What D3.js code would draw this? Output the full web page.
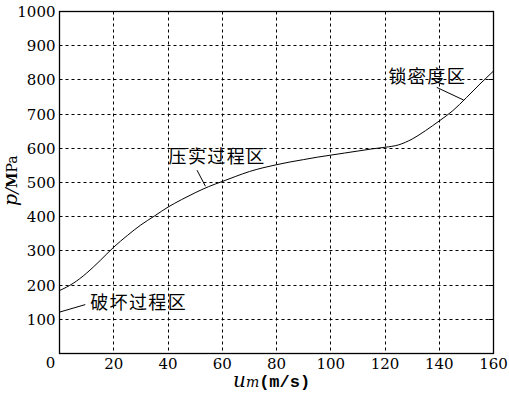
<!DOCTYPE html>
<html>
<head>
<meta charset="utf-8">
<script src="https://cdn.jsdelivr.net/npm/d3@7"></script>
<style>
  body { margin: 0; background: #fff; }
  svg { display: block; }
</style>
</head>
<body>
<div id="chart"></div>
<script>
// impact speed (m/s) and pressure (MPa)
var speed = [0, 5, 10, 15, 20, 25, 30, 35, 40, 45, 50, 55, 60, 65, 70, 75, 80,
  85, 90, 95, 100, 105, 110, 115, 120, 125, 130, 135, 140, 145, 150, 155, 160];
var pressure = [184, 205, 235, 272, 311, 345, 376, 402, 428, 450, 470, 488, 503, 518, 532, 543, 552,
  560, 567, 574, 580, 586, 592, 598, 603, 610, 627, 652, 680, 710, 748, 788, 826];

var xTicks = [20, 40, 60, 80, 100, 120, 140, 160];
var yTicks = [100, 200, 300, 400, 500, 600, 700, 800, 900, 1000];

// region labels: text anchor and leader line (data units)
var labels = ["破坏过程区", "压实过程区", "锁密度区"];
var labelAt = [[11.3, 150], [40.2, 575], [121.3, 809]];
var leaderFrom = [[0, 121], [50.7, 536], [139.1, 778]];
var leaderTo = [[9.5, 143], [53.8, 489], [149, 741]];

var W = 509, H = 398;
var margin = {top: 11.5, right: 15.5, bottom: 44.5, left: 59.5};
var width = W - margin.left - margin.right;
var height = H - margin.top - margin.bottom;

var svg = d3.select("#chart").append("svg")
  .attr("width", W)
  .attr("height", H);

var g = svg.append("g")
  .attr("transform", "translate(" + margin.left + "," + margin.top + ")");

var x = d3.scaleLinear().domain([0, 160]).range([0, width]);
var y = d3.scaleLinear().domain([0, 1000]).range([height, 0]);

// dashed grid
g.selectAll(".vgrid")
  .data(xTicks.filter(function(d) { return d < 160; }))
  .enter().append("line")
    .attr("x1", function(d) { return Math.round(x(d)); })
    .attr("x2", function(d) { return Math.round(x(d)); })
    .attr("y1", 0)
    .attr("y2", height)
    .attr("stroke", "#000")
    .attr("stroke-width", 1)
    .attr("stroke-dasharray", "3,3");

g.selectAll(".hgrid")
  .data(yTicks.filter(function(d) { return d < 1000; }))
  .enter().append("line")
    .attr("x1", 0)
    .attr("x2", width)
    .attr("y1", function(d) { return Math.round(y(d)); })
    .attr("y2", function(d) { return Math.round(y(d)); })
    .attr("stroke", "#000")
    .attr("stroke-width", 1)
    .attr("stroke-dasharray", "3,3");

// small inner ticks on right border
g.selectAll(".rtick")
  .data(yTicks.filter(function(d) { return d < 1000; }))
  .enter().append("line")
    .attr("x1", width - 5)
    .attr("x2", width)
    .attr("y1", function(d) { return Math.round(y(d)); })
    .attr("y2", function(d) { return Math.round(y(d)); })
    .attr("stroke", "#000");

// frame
g.append("rect")
  .attr("x", 0).attr("y", 0)
  .attr("width", width).attr("height", height)
  .attr("fill", "none")
  .attr("stroke", "#000")
  .attr("stroke-width", 1.3);

// tick labels
var numFont = "'DejaVu Serif', serif";

g.selectAll(".xlab")
  .data(xTicks)
  .enter().append("text")
    .attr("x", function(d) { return x(d); })
    .attr("y", height + 15)
    .attr("text-anchor", "middle")
    .attr("font-family", numFont)
    .attr("font-size", 15)
    .text(function(d) { return d; });

g.selectAll(".ylab")
  .data(yTicks)
  .enter().append("text")
    .attr("x", -4)
    .attr("y", function(d) { return y(d) + 5.5; })
    .attr("text-anchor", "end")
    .attr("font-family", numFont)
    .attr("font-size", 15)
    .text(function(d) { return d; });

g.append("text")
  .attr("x", -9)
  .attr("y", height + 14)
  .attr("text-anchor", "middle")
  .attr("font-family", numFont)
  .attr("font-size", 15)
  .text("0");

// curve
var pts = speed.map(function(s, i) { return [s, pressure[i]]; });
var line = d3.line()
  .x(function(d) { return x(d[0]); })
  .y(function(d) { return y(d[1]); })
  .curve(d3.curveMonotoneX);

g.append("path")
  .datum(pts)
  .attr("d", line)
  .attr("fill", "none")
  .attr("stroke", "#000")
  .attr("stroke-width", 1);

// region annotations
labels.forEach(function(t, i) {
  g.append("line")
    .attr("x1", x(leaderFrom[i][0]))
    .attr("y1", y(leaderFrom[i][1]))
    .attr("x2", x(leaderTo[i][0]))
    .attr("y2", y(leaderTo[i][1]))
    .attr("stroke", "#000")
    .attr("stroke-width", 1);
  g.append("text")
    .attr("x", x(labelAt[i][0]))
    .attr("y", y(labelAt[i][1]) + 6.5)
    .attr("font-family", "'Noto Sans CJK SC', sans-serif")
    .attr("font-size", 18)
    .attr("letter-spacing", 1.4)
    .text(t);
});

// axis titles
var xt = svg.append("text")
  .attr("x", 233)
  .attr("y", 387)
  .attr("font-family", numFont);
xt.append("tspan")
  .attr("font-style", "italic")
  .attr("font-size", 20)
  .text("u");
xt.append("tspan")
  .attr("font-style", "italic")
  .attr("font-size", 14)
  .text("m");
xt.append("tspan")
  .attr("font-family", "'Liberation Mono', monospace")
  .attr("font-weight", "bold")
  .attr("font-size", 17)
  .text("(m/s)");

var yt = svg.append("text")
  .attr("transform", "translate(17,206) rotate(-90)")
  .attr("font-family", numFont);
yt.append("tspan")
  .attr("font-style", "italic")
  .attr("font-size", 19)
  .text("p");
yt.append("tspan")
  .attr("font-style", "italic")
  .attr("font-size", 17)
  .text("/");
yt.append("tspan")
  .attr("font-weight", "bold")
  .attr("font-size", 14)
  .text("M");
yt.append("tspan")
  .attr("font-size", 14)
  .text("Pa");
</script>
</body>
</html>
